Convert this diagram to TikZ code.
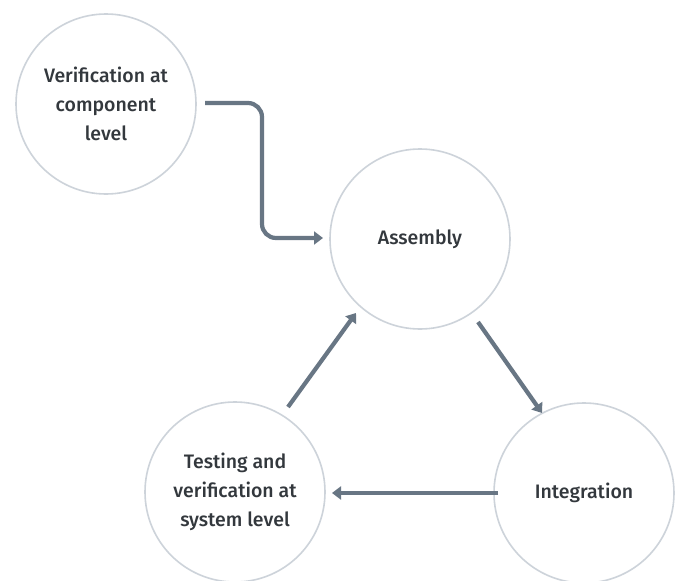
\documentclass[tikz,border=0pt]{standalone}
\usepackage{fontspec}
\setmainfont{Fira Sans Medium}
\usetikzlibrary{arrows.meta}
\definecolor{ring}{HTML}{CDD3DA}
\definecolor{arrowc}{HTML}{687684}
\definecolor{txt}{HTML}{33383D}
\begin{document}
\begin{tikzpicture}[x=1pt,y=-1pt,
  stage/.style={circle,draw=ring,line width=1.6pt,minimum size=180pt,inner sep=0pt,
    align=center,text=txt,font=\fontsize{19.5}{29}\selectfont},
  flow/.style={draw=arrowc,line width=4.2pt,-{Triangle[length=9pt,width=13pt]}}]
\useasboundingbox (0,0) rectangle (678,581);
\fill[white] (0,0) rectangle (678,581);
\node[stage] (ver) at (106,104) {Verification at\\component\\level};
\node[stage] (asm) at (420,239) {Assembly};
\node[stage] (test) at (235,492) {Testing and\\verification at\\system level};
\node[stage] (int) at (584,493) {Integration};
\coordinate (s1) at (205,103);
\coordinate (e1) at (323,238);
\draw[flow,rounded corners=14pt] (s1) -- (262,103) -- (262,238) -- (e1);
\coordinate (s2) at (478,322);
\coordinate (e2) at (542,413);
\draw[flow] (s2) -- (e2);
\coordinate (s3) at (498,493);
\coordinate (e3) at (332,493);
\draw[flow] (s3) -- (e3);
\coordinate (s4) at (288,407);
\coordinate (e4) at (356,313);
\draw[flow] (s4) -- (e4);
\end{tikzpicture}
\end{document}
